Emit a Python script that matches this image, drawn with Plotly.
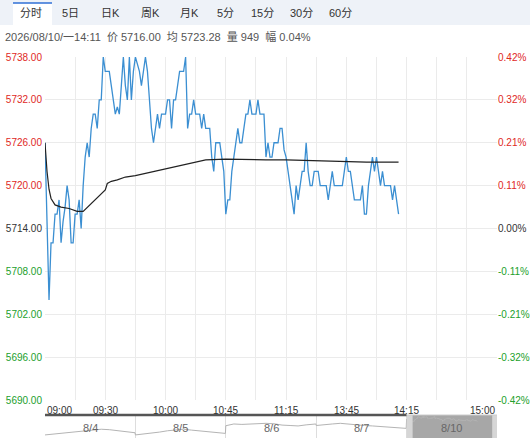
import plotly.graph_objects as go

# minute prices for 8/10, session minutes from 09:00 up to 14:11
price = [
    5726, 5715, 5704, 5712, 5712, 5716, 5716, 5718, 5712, 5715,
    5717, 5720, 5718, 5712, 5712, 5716, 5716, 5718, 5714, 5720,
    5724, 5726, 5724, 5728, 5730, 5730, 5728, 5732, 5732, 5738,
    5736, 5736, 5736, 5734, 5732, 5730, 5731, 5730, 5734, 5738,
    5734, 5732, 5738, 5732, 5736, 5738, 5737, 5736, 5734, 5736,
    5738, 5736, 5732, 5728, 5726, 5728, 5730, 5728, 5730, 5730,
    5730, 5732, 5732, 5728, 5732, 5732, 5734, 5736, 5736, 5736,
    5738,
    5728, 5730, 5730, 5732, 5730, 5730, 5730, 5728, 5730, 5728,
    5728, 5728, 5724, 5722, 5726, 5726, 5726, 5724, 5722, 5716,
    5718, 5718, 5722, 5724, 5726, 5728, 5726, 5726, 5728, 5730,
    5730, 5732, 5730, 5730, 5730, 5732, 5730, 5730, 5730,
    5724, 5726, 5724, 5724, 5726, 5726, 5726, 5728, 5728, 5725,
    5724, 5722, 5720, 5718, 5716, 5720, 5718, 5720, 5722, 5722,
    5726, 5722, 5720, 5720, 5722, 5722, 5722, 5720, 5720, 5720,
    5720, 5718, 5720, 5722, 5720, 5720, 5720, 5720, 5720,
    5722, 5724, 5722, 5722, 5720, 5718, 5718, 5718, 5718,
    5720, 5716, 5716, 5720, 5722, 5724, 5722, 5724, 5722, 5720,
    5722, 5720, 5720, 5720, 5720, 5718, 5720, 5718, 5716,
]
avg_minutes = [0, 1, 2, 3, 5, 8, 12, 16, 19, 22, 25, 28, 30, 31, 33, 36, 40, 45,
               50, 55, 60, 65, 70, 75, 80, 90, 100, 110, 120, 130, 140, 150, 160, 170, 176]
avg_price = [5726, 5722, 5719.5, 5718.2, 5717.3, 5717, 5716.8, 5716.4, 5716.4, 5717.2,
             5718, 5718.8, 5719.4, 5720.3, 5720.6, 5720.8, 5721.2, 5721.4, 5721.7, 5722.0,
             5722.4, 5722.6, 5722.9, 5723.3, 5723.6, 5723.7, 5723.6, 5723.6, 5723.6, 5723.5,
             5723.4, 5723.4, 5723.3, 5723.3, 5723.28]
prev_close = 5714
price_ticks = [5738, 5732, 5726, 5720, 5714, 5708, 5702, 5696, 5690]
session_len = 225
time_labels = ['09:00', '09:30', '10:00', '10:45', '11:15', '13:45', '14:15', '15:00']
time_label_minutes = [0, 30, 60, 90, 120, 150, 180, 225]
tabs = ['分时', '5日', '日K', '周K', '月K', '5分', '15分', '30分', '60分']
tab_centers = [31, 70, 110, 150, 189, 225, 262, 301, 340]
info_text = '2026/08/10/一14:11&nbsp; 价 5716.00&nbsp; 均 5723.28&nbsp; 量 949&nbsp; 幅 0.04%'

# navigator: earlier days sampled coarsely, last day uses the minute prices
nav_days = ['8/4', '8/5', '8/6', '8/7', '8/10']
nav_minutes = [0, 20, 40, 60, 80, 100, 120, 140, 160, 180, 200, 224]
nav_0804 = [5654, 5658, 5662, 5667, 5671, 5674, 5677, 5680, 5678, 5673, 5668, 5664]
nav_0805 = [5654, 5658, 5661, 5667, 5673, 5678, 5680, 5676, 5673, 5670, 5667, 5661]
nav_0806 = [5696, 5704, 5702, 5704, 5707, 5707, 5705, 5699, 5697, 5695, 5700, 5704]
nav_0807 = [5697, 5699, 5704, 5707, 5703, 5699, 5697, 5695, 5692, 5688, 5685, 5684]

RED, GREEN, DARK = '#e0281e', '#22a02c', '#333333'
FONT = 'Liberation Sans, Arial, Noto Sans CJK SC, sans-serif'
W, H = 530, 438
L, R, T = 45, 33, 57
PLOT_BOTTOM, NAV_TOP = 400, 415


def px_x(x):
    return (x - L) / (W - L - R)


def px_y(y):
    return (H - y) / (H - T)


def tone(p):
    return RED if p > prev_close else GREEN if p < prev_close else DARK


left_text = ['<span style="color:%s">%.2f</span>' % (tone(p), p) for p in price_ticks]
right_text = ['<span style="color:%s">%.2f%%</span>' % (tone(p), (p - prev_close) / prev_close * 100)
              for p in price_ticks]

fig = go.Figure()
fig.add_trace(go.Scatter(x=list(range(len(price))), y=price, mode='lines',
                         line=dict(color='#3b8fd2', width=1.3), hoverinfo='skip'))
fig.add_trace(go.Scatter(x=avg_minutes, y=avg_price, mode='lines', yaxis='y3',
                         line=dict(color='#222222', width=1.2), hoverinfo='skip'))

nav_x, nav_y = [], []
for d, series in enumerate([nav_0804, nav_0805, nav_0806, nav_0807]):
    nav_x += [d * session_len + t for t in nav_minutes]
    nav_y += series
nav_x += [4 * session_len + i for i in range(len(price))]
nav_y += price
fig.add_trace(go.Scatter(x=nav_x, y=nav_y, mode='lines', xaxis='x2', yaxis='y2',
                         line=dict(color='#b4b4b4', width=1), hoverinfo='skip'))

main_bottom = px_y(PLOT_BOTTOM)
nav_top = px_y(NAV_TOP)

shapes = [
    # tab bar
    dict(type='rect', xref='paper', yref='paper', x0=px_x(0), x1=px_x(W), y0=px_y(25), y1=px_y(0),
         fillcolor='#eef2f8', line_width=0),
    dict(type='rect', xref='paper', yref='paper', x0=px_x(13), x1=px_x(52), y0=px_y(25), y1=px_y(3),
         fillcolor='white', line_width=0),
    dict(type='line', xref='paper', yref='paper', x0=px_x(13), x1=px_x(52), y0=px_y(3), y1=px_y(3),
         line=dict(color='#2f6fd6', width=1.5)),
    # previous close
    dict(type='line', xref='paper', yref='y', x0=0, x1=1, y0=prev_close, y1=prev_close,
         line=dict(color='#8c8c8c', width=1, dash='dash'), layer='between'),
    # navigator selection
    dict(type='rect', xref='x2', yref='paper', x0=4 * session_len, x1=5 * session_len, y0=0, y1=nav_top,
         fillcolor='#a7a7a7', line_width=0, layer='between'),
    dict(type='rect', xref='x2', yref='paper', x0=4 * session_len, x1=4 * session_len + 15, y0=0, y1=nav_top,
         fillcolor='#d6d6d6', line_width=0),
    dict(type='rect', xref='x2', yref='paper', x0=5 * session_len - 12, x1=5 * session_len, y0=0, y1=nav_top,
         fillcolor='#d6d6d6', line_width=0),
    dict(type='line', xref='x2', yref='paper', x0=0, x1=4 * session_len, y0=nav_top, y1=nav_top,
         line=dict(color='#555555', width=2.5)),
    dict(type='line', xref='x2', yref='paper', x0=4 * session_len, x1=5 * session_len, y0=nav_top, y1=nav_top,
         line=dict(color='#cccccc', width=1)),
]

annotations = []
for name, cx in zip(tabs, tab_centers):
    annotations.append(dict(text=name, x=px_x(cx), y=px_y(13), xref='paper', yref='paper',
                            xanchor='center', yanchor='middle', showarrow=False,
                            font=dict(size=11, color='#333333')))
annotations.append(dict(text=info_text, x=px_x(3), y=px_y(37), xref='paper', yref='paper',
                        xanchor='left', yanchor='middle', showarrow=False,
                        font=dict(size=11, color='#555555')))
for i, (lab, m) in enumerate(zip(time_labels, time_label_minutes)):
    anchor = 'left' if i == 0 else 'right' if i == len(time_labels) - 1 else 'center'
    annotations.append(dict(text=lab, x=m, y=px_y(410), xref='x', yref='paper', xanchor=anchor,
                            yanchor='middle', showarrow=False, font=dict(size=10, color='#333333')))
for d, lab in enumerate(nav_days):
    annotations.append(dict(text=lab, x=d * session_len + session_len / 2, y=px_y(428), xref='x2',
                            yref='paper', xanchor='center', yanchor='middle', showarrow=False,
                            font=dict(size=11, color='#666666')))

fig.update_layout(
    width=W, height=H,
    margin=dict(l=L, r=R, t=T, b=0, autoexpand=False),
    paper_bgcolor='white', plot_bgcolor='white',
    showlegend=False,
    font=dict(family=FONT, size=10, color=DARK),
    xaxis=dict(range=[0, session_len], domain=[0, 1], tickvals=list(range(0, session_len + 1, 15)),
               showticklabels=False, showgrid=True, gridcolor='#ebebeb', zeroline=False, anchor='y',
               automargin=False),
    yaxis=dict(range=[price_ticks[-1], price_ticks[0]], domain=[main_bottom, 1], tickvals=price_ticks,
               ticktext=left_text, showgrid=True, gridcolor='#ebebeb', zeroline=False,
               tickfont=dict(size=10), ticks='', ticklabelstandoff=2, automargin=False),
    yaxis3=dict(overlaying='y', side='right', matches='y', tickvals=price_ticks, ticktext=right_text,
                showgrid=False, zeroline=False, tickfont=dict(size=10), ticks='',
                ticklabelstandoff=0, automargin=False),
    xaxis2=dict(range=[0, 5 * session_len], domain=[0, 1], anchor='y2',
                tickvals=[session_len * d for d in range(1, 5)], showticklabels=False,
                showgrid=True, gridcolor='#dddddd', zeroline=False, automargin=False),
    yaxis2=dict(range=[5640, 5745], domain=[0, nav_top], showticklabels=False, showgrid=False,
                zeroline=False, anchor='x2', automargin=False),
    shapes=shapes,
    annotations=annotations,
)

# the page body has a default margin; drop it so the figure sits at the window corner
fig.write_html('out.html', config={'displayModeBar': False},
               post_script="document.body.style.margin='0';")
